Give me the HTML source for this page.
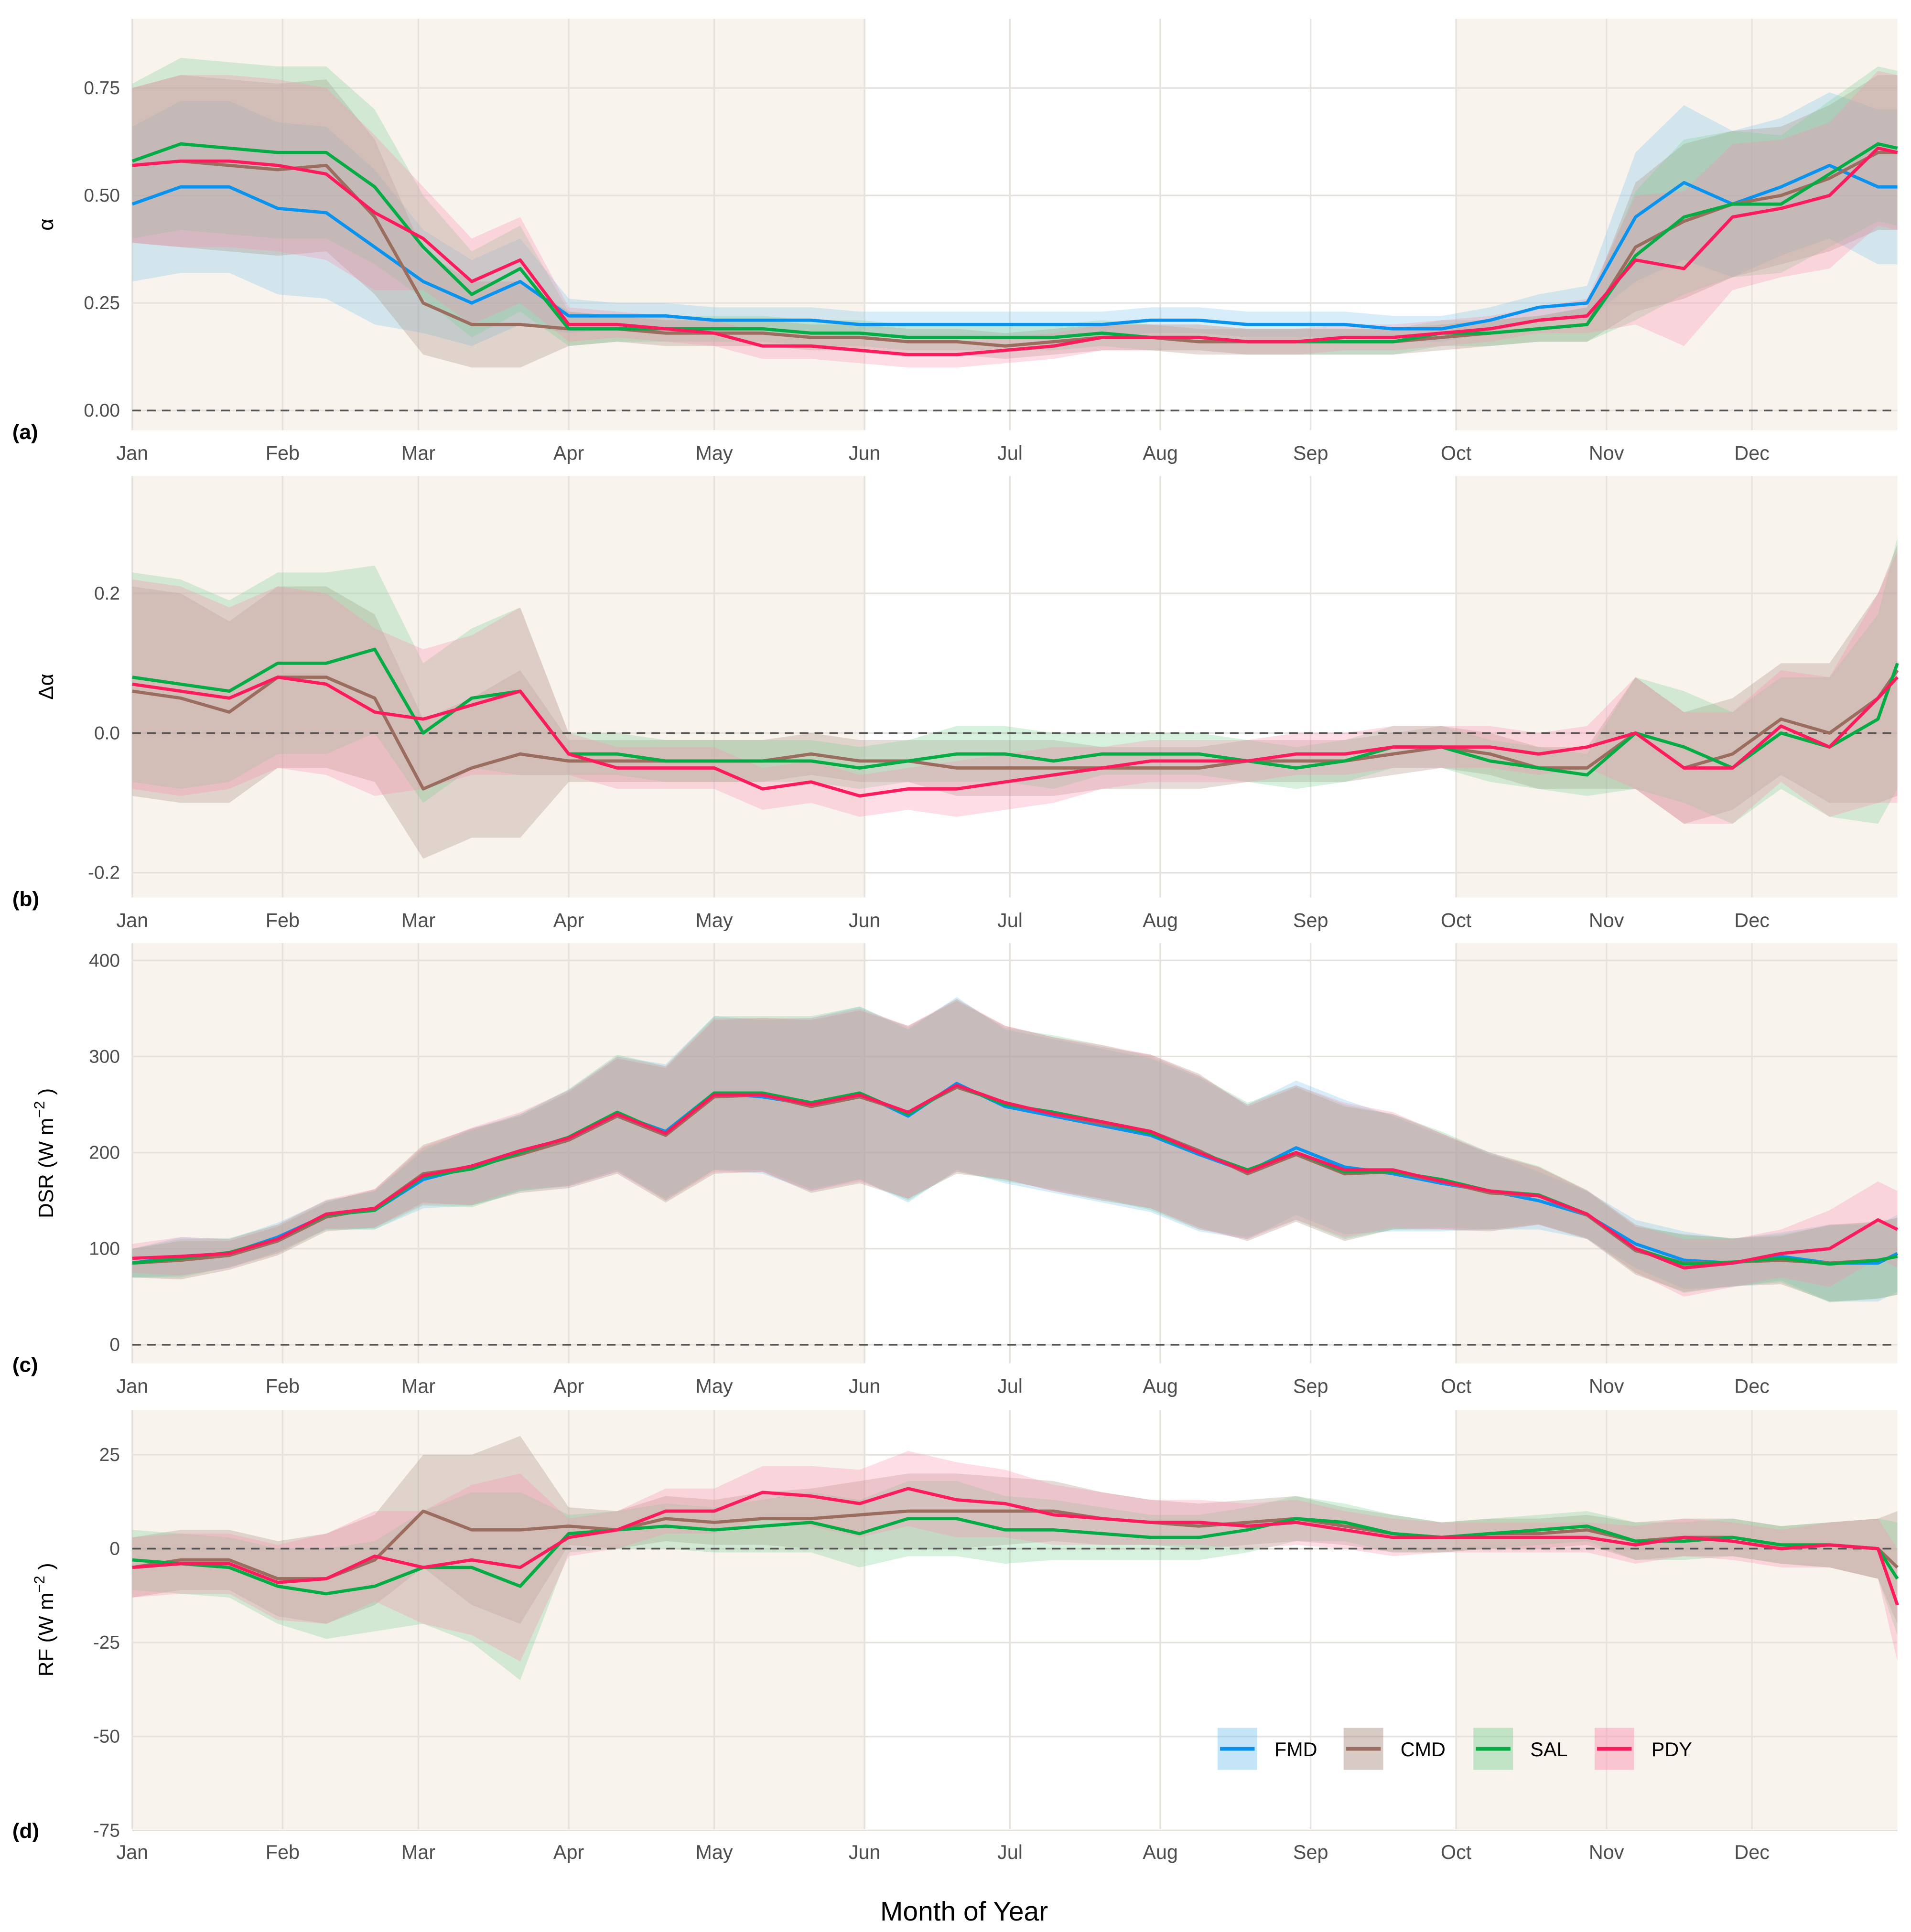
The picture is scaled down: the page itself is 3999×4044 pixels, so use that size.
<!DOCTYPE html>
<html><head><meta charset="utf-8"><style>
html,body{margin:0;padding:0;background:#fff;}
svg{display:block;}
text{font-family:"Liberation Sans",sans-serif;}
</style></head><body>
<svg id="chart" width="3999" height="4044" viewBox="0 0 1546 1563" xmlns="http://www.w3.org/2000/svg"></svg>
<script>
// ---- data ----
const days = [0,10,20,30,40,50,60,70,80,90,100,110,120,130,140,150,160,170,180,190,200,210,220,230,240,250,260,270,280,290,300,310,320,330,340,350,360,364];
const monthLabels = ["Jan","Feb","Mar","Apr","May","Jun","Jul","Aug","Sep","Oct","Nov","Dec"];
const monthStarts = [0,31,59,90,120,151,181,212,243,273,304,334];
const seriesNames = ["FMD","CMD","SAL","PDY"];

const aFMD = [0.48,0.52,0.52,0.47,0.46,0.38,0.30,0.25,0.30,0.22,0.22,0.22,0.21,0.21,0.21,0.20,0.20,0.20,0.20,0.20,0.20,0.21,0.21,0.20,0.20,0.20,0.19,0.19,0.21,0.24,0.25,0.45,0.53,0.48,0.52,0.57,0.52,0.52];
const aCMD = [0.57,0.58,0.57,0.56,0.57,0.45,0.25,0.20,0.20,0.19,0.19,0.18,0.18,0.18,0.17,0.17,0.16,0.16,0.15,0.16,0.17,0.17,0.16,0.16,0.16,0.16,0.16,0.17,0.18,0.19,0.20,0.38,0.44,0.48,0.50,0.54,0.60,0.60];
const aSAL = [0.58,0.62,0.61,0.60,0.60,0.52,0.38,0.27,0.33,0.19,0.19,0.19,0.19,0.19,0.18,0.18,0.17,0.17,0.17,0.17,0.18,0.17,0.17,0.16,0.16,0.16,0.16,0.18,0.18,0.19,0.20,0.36,0.45,0.48,0.48,0.55,0.62,0.61];
const aPDY = [0.57,0.58,0.58,0.57,0.55,0.46,0.40,0.30,0.35,0.20,0.20,0.19,0.18,0.15,0.15,0.14,0.13,0.13,0.14,0.15,0.17,0.17,0.17,0.16,0.16,0.17,0.17,0.18,0.19,0.21,0.22,0.35,0.33,0.45,0.47,0.50,0.61,0.60];
const aSpread = [0.18,0.2,0.2,0.2,0.2,0.18,0.12,0.1,0.1,0.04,0.03,0.03,0.03,0.03,0.03,0.03,0.03,0.03,0.03,0.03,0.03,0.03,0.03,0.03,0.03,0.03,0.03,0.03,0.03,0.03,0.04,0.15,0.18,0.17,0.16,0.17,0.18,0.18];

const bCMD = [0.06,0.05,0.03,0.08,0.08,0.05,-0.08,-0.05,-0.03,-0.04,-0.04,-0.04,-0.04,-0.04,-0.03,-0.04,-0.04,-0.05,-0.05,-0.05,-0.05,-0.05,-0.05,-0.04,-0.04,-0.04,-0.03,-0.02,-0.03,-0.05,-0.05,0.00,-0.05,-0.03,0.02,0.00,0.05,0.09];
const bSAL = [0.08,0.07,0.06,0.10,0.10,0.12,0.00,0.05,0.06,-0.03,-0.03,-0.04,-0.04,-0.04,-0.04,-0.05,-0.04,-0.03,-0.03,-0.04,-0.03,-0.03,-0.03,-0.04,-0.05,-0.04,-0.02,-0.02,-0.04,-0.05,-0.06,0.00,-0.02,-0.05,0.00,-0.02,0.02,0.10];
const bPDY = [0.07,0.06,0.05,0.08,0.07,0.03,0.02,0.04,0.06,-0.03,-0.05,-0.05,-0.05,-0.08,-0.07,-0.09,-0.08,-0.08,-0.07,-0.06,-0.05,-0.04,-0.04,-0.04,-0.03,-0.03,-0.02,-0.02,-0.02,-0.03,-0.02,0.00,-0.05,-0.05,0.01,-0.02,0.05,0.08];
const bSpread = [0.15,0.15,0.13,0.13,0.13,0.12,0.1,0.1,0.12,0.03,0.03,0.03,0.03,0.03,0.03,0.03,0.03,0.04,0.04,0.04,0.03,0.03,0.03,0.03,0.03,0.03,0.03,0.03,0.03,0.03,0.03,0.08,0.08,0.08,0.08,0.1,0.15,0.18];

const cFMD = [85,92,95,112,135,140,172,185,200,215,240,222,262,258,250,262,238,272,248,238,228,218,198,180,205,185,178,168,160,150,135,105,88,85,92,85,85,95];
const cCMD = [85,88,93,108,133,142,178,185,198,213,238,218,258,260,248,258,242,268,252,240,230,222,202,178,198,178,180,170,158,155,135,98,85,86,88,85,88,92];
const cSAL = [85,90,96,110,135,140,175,183,200,216,242,220,262,262,252,262,240,270,250,242,232,220,200,182,200,180,180,172,160,156,136,100,84,86,90,84,88,92];
const cPDY = [90,92,95,110,136,142,176,186,202,215,240,220,260,260,250,260,242,270,252,240,232,222,200,180,200,182,182,170,160,155,136,100,80,85,95,100,130,120];
const cSpread = [15,20,15,15,15,20,30,40,40,50,60,70,80,80,90,90,90,90,80,80,80,80,80,70,70,70,60,50,40,30,25,25,30,25,25,40,40,40];

const dCMD = [-5,-3,-3,-8,-8,-3,10,5,5,6,5,8,7,8,8,9,10,10,10,10,8,7,6,7,8,6,4,3,4,4,5,2,3,3,1,1,0,-5];
const dSAL = [-3,-4,-5,-10,-12,-10,-5,-5,-10,4,5,6,5,6,7,4,8,8,5,5,4,3,3,5,8,7,4,3,4,5,6,2,2,3,1,1,0,-8];
const dPDY = [-5,-4,-4,-9,-8,-2,-5,-3,-5,3,5,10,10,15,14,12,16,13,12,9,8,7,7,6,7,5,3,3,3,3,3,1,3,2,0,1,0,-15];
const dSpread = [8,8,8,10,12,12,15,20,25,5,5,6,6,7,8,9,10,10,9,8,7,6,6,6,6,5,5,4,4,4,4,5,5,5,5,6,8,15];

const aTicks = [0,0.25,0.5,0.75], aTickLabels = ["0.00","0.25","0.50","0.75"];
const bTicks = [-0.2,0,0.2], bTickLabels = ["-0.2","0.0","0.2"];
const cTicks = [0,100,200,300,400], cTickLabels = ["0","100","200","300","400"];
const dTicks = [-75,-50,-25,0,25], dTickLabels = ["-75","-50","-25","0","25"];

// ---- layout ----
const NS = "http://www.w3.org/2000/svg";
const svg = document.getElementById("chart");
const X0 = 107, X1 = 1535;
const colors = {FMD:"#0a93ee", CMD:"#9b6d5f", SAL:"#05ac45", PDY:"#fc1c5d"};
const fills = {FMD:"#7cc6f0", CMD:"#a98a7e", SAL:"#7ccf94", PDY:"#fb8fae"};
function xs(d){ return X0 + d*(X1-X0)/364; }
function mk(tag, attrs, parent){
  const e = document.createElementNS(NS, tag);
  for (const k in attrs) e.setAttribute(k, attrs[k]);
  (parent||svg).appendChild(e); return e;
}
const panels = [
  {key:"a", top:15, bot:348, y0:332, k:348, ticks:aTicks, labels:aTickLabels, title:"α", series:{FMD:aFMD,CMD:aCMD,SAL:aSAL,PDY:aPDY}, spread:aSpread},
  {key:"b", top:385, bot:726, y0:593, k:565, ticks:bTicks, labels:bTickLabels, title:"Δα", series:{CMD:bCMD,SAL:bSAL,PDY:bPDY}, spread:bSpread},
  {key:"c", top:763, bot:1103, y0:1088, k:0.7775, ticks:cTicks, labels:cTickLabels, title:"DSR", series:{FMD:cFMD,CMD:cCMD,SAL:cSAL,PDY:cPDY}, spread:cSpread},
  {key:"d", top:1141, bot:1480, y0:1253, k:3.04, ticks:dTicks, labels:dTickLabels, title:"RF", series:{CMD:dCMD,SAL:dSAL,PDY:dPDY}, spread:dSpread}
];

panels.forEach(p => {
  const ys = v => p.y0 - v*p.k;
  const g = mk("g", {});
  
  
  mk("rect", {x:X0, y:p.top, width:X1-X0, height:p.bot-p.top, fill:"#ffffff"}, g);
  const s1 = mk("rect", {x:X0, y:p.top, width:xs(151)-X0, height:p.bot-p.top, fill:"#f8f3ed"}, g);
  
  
  const s2 = mk("rect", {x:xs(273), y:p.top, width:X1-xs(273), height:p.bot-p.top, fill:"#f8f3ed"}, g);
  
  
  // gridlines
  p.ticks.forEach((t,i) => {
    const y = ys(t);
    mk("line", {x1:X0, x2:X1, y1:y, y2:y, stroke:"#e6e2dd", "stroke-width":1.3}, g);
    const tl = mk("text", {x:97, y:y+5, "text-anchor":"end", "font-size":15, fill:"#4d4d4d"}, g);
    tl.textContent = p.labels[i];
    
    
  });
  monthStarts.forEach((d,i) => {
    const x = xs(d);
    mk("line", {x1:x, x2:x, y1:p.top, y2:p.bot, stroke:"#e6e2dd", "stroke-width":1.3}, g);
    const ml = mk("text", {x:x, y:p.bot+24, "text-anchor":"middle", "font-size":16, fill:"#4d4d4d"}, g);
    ml.textContent = monthLabels[i];
    
    
  });
  // ribbons
  const names = seriesNames.filter(n => p.series[n]);
  names.forEach(n => {
    const v = p.series[n];
    let pts = days.map((d,i) => xs(d)+","+ys(v[i]+p.spread[i]));
    for (let i=days.length-1;i>=0;i--) pts.push(xs(days[i])+","+ys(v[i]-p.spread[i]));
    const r = mk("polygon", {points:pts.join(" "), fill:fills[n], "fill-opacity":0.3}, g);
    
    
  });
  // zero line
  mk("line", {x1:X0, x2:X1, y1:ys(0), y2:ys(0), stroke:"#555", "stroke-width":1.4, "stroke-dasharray":"7 5"}, g);
  // lines
  names.forEach(n => {
    const v = p.series[n];
    const l = mk("polyline", {points:days.map((d,i)=>xs(d)+","+ys(v[i])).join(" "), fill:"none", stroke:colors[n], "stroke-width":2.6, "stroke-linejoin":"round"}, g);
    
    
  });
  const pl = mk("text", {x:10, y:p.bot+7, "font-size":17, "font-weight":"bold", fill:"#000"}, g);
  pl.textContent = "(" + p.key + ")";
  
  
  const cy = (p.top+p.bot)/2;
  const yt = mk("text", {x:0, y:0, "font-size":17, fill:"#000", "text-anchor":"middle", transform:"translate(43,"+cy+") rotate(-90)"}, g);
  
  
  if (p.key==="c" || p.key==="d") {
    yt.textContent = p.title + " (W  m";
    const sup = mk("tspan", {dy:-7, "font-size":12}, yt); sup.textContent = "−2";
    const cl = mk("tspan", {dy:7}, yt); cl.textContent = " )";
  } else yt.textContent = p.title;
});

// x axis title
const xt = mk("text", {x:780, y:1554, "text-anchor":"middle", "font-size":22, fill:"#000"});
xt.textContent = "Month of Year";



// legend
const legX = [985, 1087, 1192, 1290];
seriesNames.forEach((n,i) => {
  const lg = mk("g", {});
  
  
  mk("rect", {x:legX[i], y:1398, width:32, height:34, fill:fills[n], "fill-opacity":0.45}, lg);
  mk("line", {x1:legX[i]+2, x2:legX[i]+30, y1:1415, y2:1415, stroke:colors[n], "stroke-width":3}, lg);
  const t = mk("text", {x:legX[i]+46, y:1421, "font-size":16, fill:"#000"}, lg);
  t.textContent = n;
});
</script>
</body></html>
